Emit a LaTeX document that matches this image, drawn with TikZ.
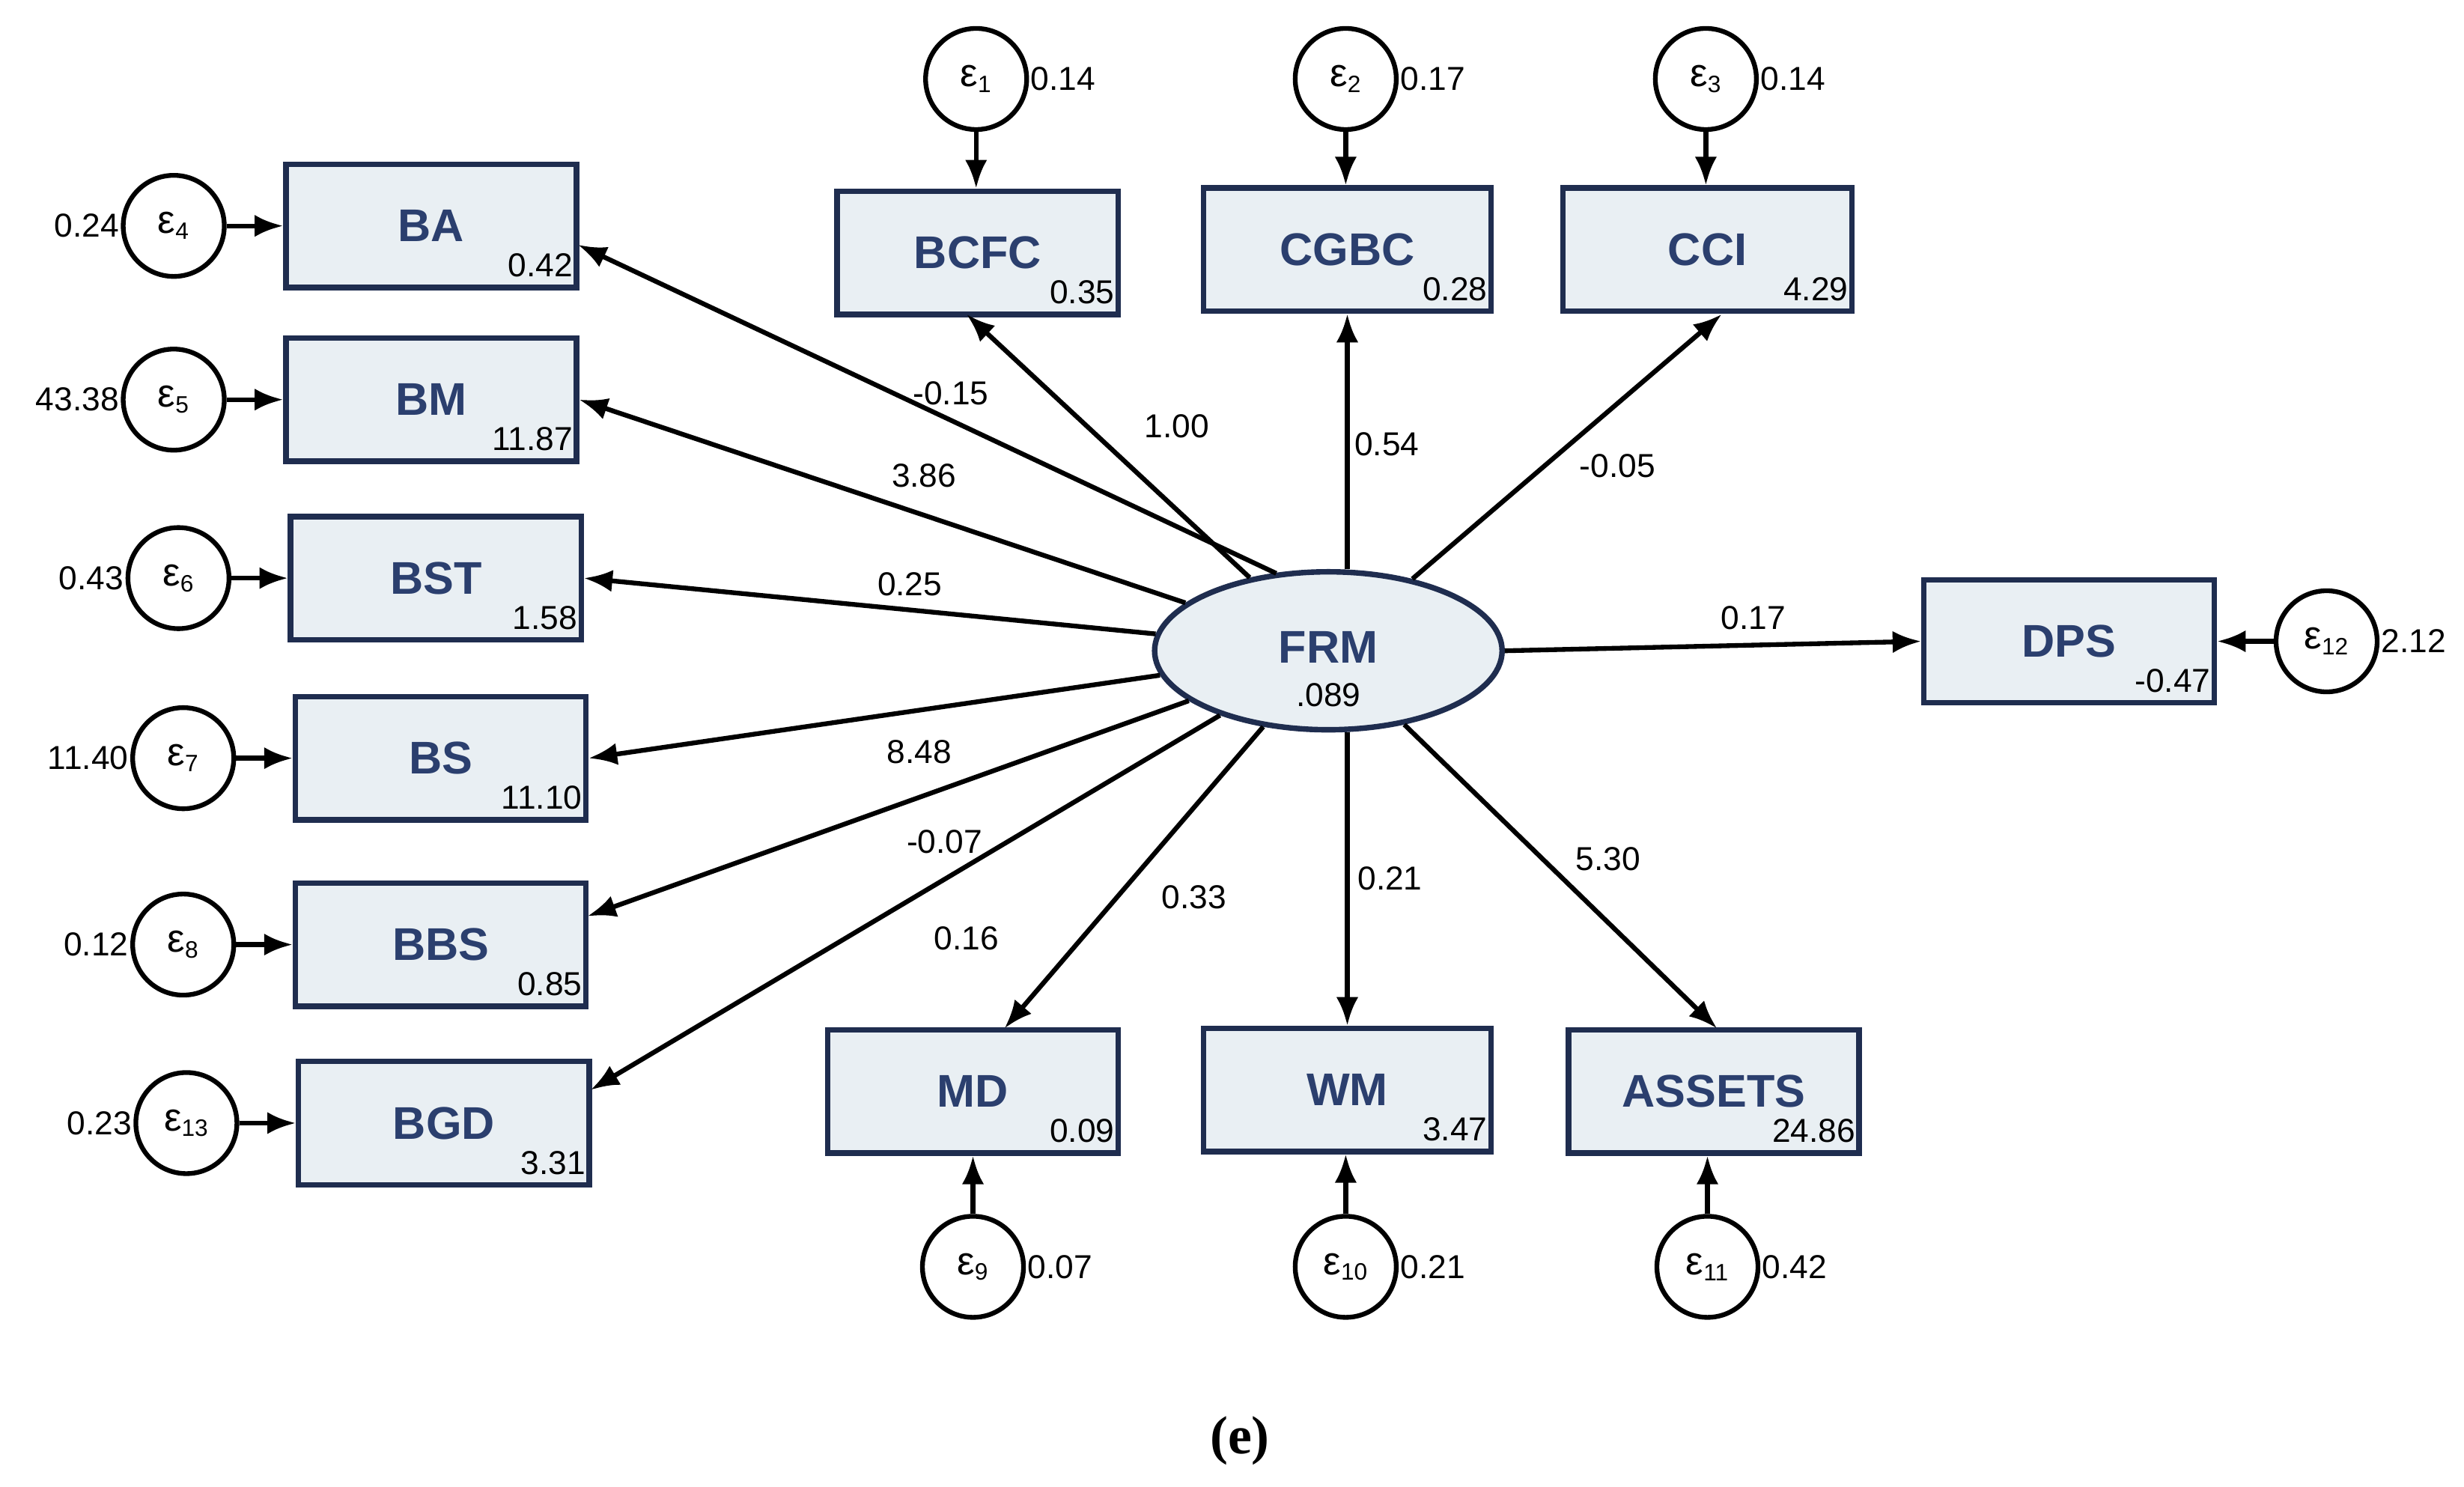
\documentclass[tikz,border=0pt]{standalone}
\usepackage{fontspec}
\setmainfont{Liberation Sans}
\newfontfamily\capfont{Liberation Serif}
\usetikzlibrary{arrows.meta,shapes.geometric}
\definecolor{bfill}{HTML}{E9EFF3}
\definecolor{bdraw}{HTML}{1F2D4F}
\definecolor{btext}{HTML}{2B3F6E}
\tikzset{
 box/.style={draw=bdraw,fill=bfill,line width=3.5pt,minimum width=184pt,minimum height=78pt,inner sep=0pt,
   font=\fontsize{29}{30}\selectfont\bfseries,text=btext},
 err/.style={circle,draw=black,line width=3pt,fill=white,minimum size=64pt,inner sep=0pt,font=\fontsize{25}{26}\selectfont},
 num/.style={font=\fontsize{21}{22}\selectfont,inner sep=1pt},
 arr/.style={line width=3pt,-{Latex[length=18pt,width=14pt]}},
 bval/.style={num,anchor=south east,xshift=-3pt,yshift=7pt}
}
\newcommand{\eps}[1]{ε\textsubscript{\fontsize{15}{16}\selectfont #1}}
\begin{document}
\begin{tikzpicture}[x=1pt,y=-1pt]
\useasboundingbox (0,0) rectangle (1560,941.4);
% boxes
\node[box] (BA) at (273,143) {BA};
\node[box] (BM) at (273,253) {BM};
\node[box] (BST) at (276,366) {BST};
\node[box] (BS) at (279,480) {BS};
\node[box] (BBS) at (279,598) {BBS};
\node[box] (BGD) at (281,711) {BGD};
\node[box,minimum width=178pt] (BCFC) at (619,160) {BCFC};
\node[box,minimum width=182pt] (CGBC) at (853,158) {CGBC};
\node[box,minimum width=183pt] (CCI) at (1081,158) {CCI};
\node[box] (MD) at (616,691) {MD};
\node[box,minimum width=182pt] (WM) at (853,690) {WM};
\node[box] (ASSETS) at (1085,691) {ASSETS};
\node[box] (DPS) at (1310,406) {DPS};
\foreach \b/\v in {BA/0.42,BM/11.87,BST/1.58,BS/11.10,BBS/0.85,BGD/3.31,BCFC/0.35,CGBC/0.28,CCI/4.29,MD/0.09,WM/3.47,ASSETS/24.86,DPS/-0.47}
  \node[bval] at (\b.south east) {\v};
% FRM
\node[ellipse,draw=bdraw,fill=bfill,line width=3.5pt,minimum width=220pt,minimum height=100pt,inner sep=0pt] (FRM) at (841,412) {};
\node[font=\fontsize{29}{30}\selectfont\bfseries,text=btext] at (841,410) {FRM};
\node[num] at (841,440) {.089};
% errors
\node[err] (e1) at (618,50) {\eps{1}};
\node[err] (e2) at (852,50) {\eps{2}};
\node[err] (e3) at (1080,50) {\eps{3}};
\node[err] (e4) at (110,143) {\eps{4}};
\node[err] (e5) at (110,253) {\eps{5}};
\node[err] (e6) at (113,366) {\eps{6}};
\node[err] (e7) at (116,480) {\eps{7}};
\node[err] (e8) at (116,598) {\eps{8}};
\node[err] (e13) at (118,711) {\eps{13}};
\node[err] (e9) at (616,802) {\eps{9}};
\node[err] (e10) at (852,802) {\eps{10}};
\node[err] (e11) at (1081,802) {\eps{11}};
\node[err] (e12) at (1473,406) {\eps{12}};
\foreach \e/\v in {e1/0.14,e2/0.17,e3/0.14,e9/0.07,e10/0.21,e11/0.42,e12/2.12}
  \node[num,anchor=west] at (\e.east) {\v};
\foreach \e/\v in {e4/0.24,e5/43.38,e6/0.43,e7/11.40,e8/0.12,e13/0.23}
  \node[num,anchor=east] at (\e.west) {\v};
% error arrows
\foreach \e/\b in {e1/BCFC,e2/CGBC,e3/CCI}
  \draw[arr] (\e.south) -- (\e.south |- \b.north);
\foreach \e/\b in {e9/MD,e10/WM,e11/ASSETS}
  \draw[arr] (\e.north) -- (\e.north |- \b.south);
\foreach \e/\b in {e4/BA,e5/BM,e6/BST,e7/BS,e8/BBS,e13/BGD}
  \draw[arr] (\e.east) -- (\b.west);
\draw[arr] (e12.west) -- (DPS.east);
% FRM arrows
\coordinate (tBA) at (366,155);
\coordinate (tBCFC) at (612,199);
\coordinate (tCCI) at (1090,199);
\coordinate (tMD) at (636,651);
\coordinate (tASSETS) at (1087,651);
\coordinate (tBGD) at (374,690);
\coordinate (tBBS) at (372,580);
\draw[arr] (808,363) -- (tBA);
\draw[arr] (FRM) -- (BM.east);
\draw[arr] (FRM) -- (BST.east);
\draw[arr] (FRM) -- (BS.east);
\draw[arr] (FRM) -- (tBBS);
\draw[arr] (FRM) -- (tBGD);
\draw[arr] (FRM) -- (tBCFC);
\draw[arr] (FRM.north -| CGBC.south) -- (CGBC.south);
\draw[arr] (FRM) -- (tCCI);
\draw[arr] (FRM) -- (tMD);
\draw[arr] (FRM.south -| WM.north) -- (WM.north);
\draw[arr] (FRM) -- (tASSETS);
\draw[arr] (FRM.east) -- (DPS.west);
% path labels
\foreach \p/\t in {{602,249}/-0.15,{745,270}/1.00,{878,281}/0.54,{1024,295}/-0.05,{585,301}/3.86,{576,370}/0.25,{1110,391}/0.17,{582,476}/8.48,{598,533}/-0.07,{612,594}/0.16,{756,568}/0.33,{880,556}/0.21,{1018,544}/5.30}
  \node[num] at (\p) {\t};
\node[font=\capfont\fontsize{34}{36}\selectfont\bfseries] at (785,912) {(e)};
\end{tikzpicture}
\end{document}
